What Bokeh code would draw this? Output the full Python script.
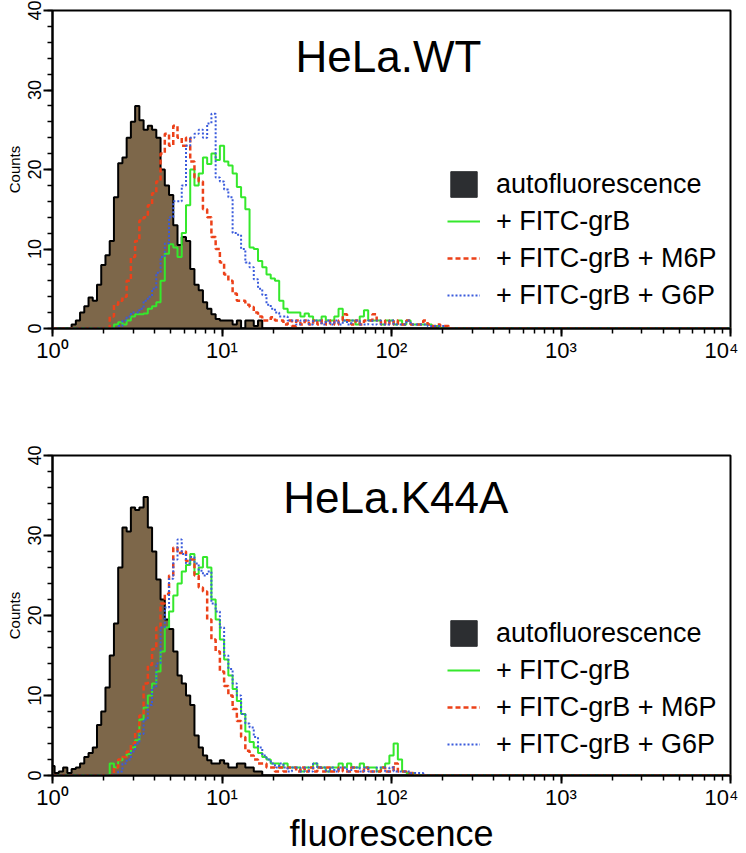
from bokeh.plotting import figure
from bokeh.models import (Range1d, Label, Legend, LegendItem, LogTicker,
                          SingleIntervalTicker, CustomJSTickFormatter, ColumnDataSource)
from bokeh.layouts import column
from bokeh.embed import file_html
from bokeh.resources import INLINE

# ---------------- data ----------------
# fluorescence channel values (log scale, 1/40 decade apart) + axis end
channels = [1.000, 1.059, 1.122, 1.189, 1.259, 1.334, 1.413, 1.496, 1.585, 1.679,
            1.778, 1.884, 1.995, 2.113, 2.239, 2.371, 2.512, 2.661, 2.818, 2.985,
            3.162, 3.350, 3.548, 3.758, 3.981, 4.217, 4.467, 4.732, 5.012, 5.309,
            5.623, 5.957, 6.310, 6.683, 7.079, 7.499, 7.943, 8.414, 8.913, 9.441,
            10.00, 10.59, 11.22, 11.89, 12.59, 13.34, 14.13, 14.96, 15.85, 16.79,
            17.78, 18.84, 19.95, 21.13, 22.39, 23.71, 25.12, 26.61, 28.18, 29.85,
            31.62, 33.50, 35.48, 37.58, 39.81, 42.17, 44.67, 47.32, 50.12, 53.09,
            56.23, 59.57, 63.10, 66.83, 70.79, 74.99, 79.43, 84.14, 89.13, 94.41,
            100.0, 105.9, 112.2, 118.9, 125.9, 133.4, 141.3, 149.6, 158.5, 167.9,
            177.8, 188.4, 199.5, 211.3, 223.9, 237.1, 251.2, 10000]

series_names = ["autofluorescence", "+ FITC-grB", "+ FITC-grB + M6P", "+ FITC-grB + G6P"]
titles = ["HeLa.WT", "HeLa.K44A"]

wt_auto = [0, 0, 0, 0, 0, 0.5, 1, 2, 2.8, 3.9,
           3.5, 5.5, 8, 9.2, 11, 16.5, 20.8, 21.5, 24, 26,
           28, 26.2, 25, 25.5, 25, 24, 20, 18, 16.8, 13,
           10.5, 11.5, 11, 7.5, 5.5, 4.8, 3.3, 2.5, 1.8, 1.2,
           1, 1, 1, 0.5, 1, 0, 1, 1, 0.3, 1,
           0, 0, 0, 0, 0, 0, 0, 0, 0, 0,
           0, 0, 0, 0, 0, 0, 0, 0, 0, 0,
           0, 0, 0, 0, 0, 0, 0, 0, 0, 0,
           0, 0, 0, 0, 0, 0, 0, 0, 0, 0,
           0, 0, 0, 0, 0, 0, 0, 0]
wt_grb = [0, 0, 0, 0, 0, 0, 0, 0, 0, 0,
          0, 0, 0, 0, 0, 0.5, 0.8, 0.5, 1, 1.5,
          1.8, 1.8, 1.9, 2.5, 2.8, 3.3, 6, 9.4, 10.6, 10.2,
          9, 12, 15.5, 20, 18, 19.5, 21.5, 20.7, 22, 21.2,
          23, 21, 20.5, 19.5, 17.8, 16.5, 15, 10.2, 10, 8.5,
          7.7, 6.8, 6.3, 6, 3.5, 2.5, 2, 2, 2, 1.5,
          1.9, 1.5, 1, 1, 1.5, 1, 1, 1.5, 2.5, 1,
          1, 1, 0.5, 1.5, 2.3, 1, 1, 1, 0.5, 1,
          1, 0.5, 1, 0.5, 1, 0.5, 0.5, 0.5, 0.5, 0.5,
          0.3, 0.3, 0, 0, 0, 0, 0, 0]
wt_m6p = [0, 0, 0, 0, 0, 0, 0, 0, 0, 0,
          0, 0, 0, 0, 1.5, 3, 3.5, 4, 6, 9,
          11, 13.6, 14, 15.5, 17, 18.5, 22, 24.5, 23, 25.5,
          24, 23, 24, 21, 19, 18.5, 15, 14, 11.5, 10,
          8.3, 6.8, 6, 4.4, 3.5, 3.5, 3, 2.7, 2, 1.5,
          1, 1, 1.4, 1, 1, 0.5, 1, 0.3, 1, 0.5,
          1, 0.5, 1, 0.5, 1, 0.5, 1, 0.5, 1, 1.8,
          1, 0.5, 1, 0.5, 1, 1, 1.8, 1, 0.5, 1,
          0.5, 1, 0.5, 0.5, 1, 0.5, 0.5, 0.5, 1, 0.5,
          0.3, 0.5, 0.3, 0.3, 0, 0, 0, 0]
wt_g6p = [0, 0, 0, 0, 0, 0, 0, 0, 0, 0,
          0, 0, 0, 0, 0, 0, 0.3, 1, 1.5, 2,
          2, 2.5, 3.5, 4, 5, 7, 9, 10.7, 14, 16,
          16, 18, 23, 24, 24.5, 25, 24, 25.8, 27, 19,
          18.5, 17.5, 16.5, 12, 11.8, 10, 8.3, 7.7, 6.2, 5,
          4.2, 3, 2.5, 2, 1.5, 1.5, 1, 1, 0.5, 1,
          1, 0.5, 1, 1, 0.5, 1, 0.5, 1, 0.5, 1,
          0.5, 1, 1, 0.5, 0.5, 1, 0.5, 1, 0.5, 0.5,
          1, 0.5, 0.5, 0.5, 1, 0.5, 0.5, 0.5, 0.5, 0.3,
          0.3, 0.3, 0.3, 0, 0, 0, 0, 0]

k44a_auto = [1.2, 0.3, 0.5, 1, 0.3, 0.8, 1, 1.5, 2.3, 2.8,
             3.5, 6.3, 8, 11, 15, 19, 26, 31, 30.5, 33.5,
             33.2, 33.5, 34.8, 31, 28, 24.5, 22, 19.5, 18.3, 15.5,
             12.5, 11.5, 10, 8.8, 5, 3.5, 2.5, 1.9, 1.5, 1.5,
             1.9, 1.5, 1, 1, 1.5, 1.5, 1, 1, 0.5, 0.5,
             0, 0, 0, 0, 0, 0, 0, 0, 0, 0,
             0, 0, 0, 0, 0, 0, 0, 0, 0, 0,
             0, 0, 0, 0, 0, 0, 0, 0, 0, 0,
             0, 0, 0, 0, 0, 0, 0, 0, 0, 0,
             0, 0, 0, 0, 0, 0, 0, 0]
k44a_grb = [0, 0, 0, 0, 0, 0, 0, 0, 0, 0,
            0, 0, 0, 0, 1.5, 1, 1.9, 2.3, 2.7, 3.5,
            4.4, 7, 8.5, 10, 11.5, 13, 15.5, 18.5, 20.5, 22.5,
            24, 25.5, 26.3, 27.7, 25.2, 26, 27.3, 26, 22, 19.5,
            17, 14.5, 12.5, 10.8, 9.3, 7.7, 5.5, 4.2, 3.5, 2.8,
            2.3, 2, 1.5, 1.5, 1, 1.5, 1, 1, 1, 0.5,
            1, 1, 1.5, 1, 1, 0.5, 1, 1, 1.5, 1,
            1.5, 1, 1, 1.5, 1, 1, 1, 0.5, 1, 1.5,
            2.5, 4, 2, 0.5, 0.3, 0.3, 0, 0, 0, 0,
            0, 0, 0, 0, 0, 0, 0, 0]
k44a_m6p = [0, 0, 0, 0, 0, 0, 0, 0, 0, 0,
            0, 0, 0, 0, 0, 1, 2, 2.3, 3, 4,
            5.5, 7.5, 11.5, 13.8, 15.8, 18.5, 21.5, 22.7, 25, 28.5,
            27.8, 28, 26.8, 27, 25, 23.5, 23, 19.5, 17, 15.5,
            13, 11.2, 10, 8.3, 6.8, 4.8, 3.1, 2.5, 2, 1.5,
            1.5, 1, 1, 0.5, 1, 0.5, 1, 1, 0.5, 1,
            0.5, 1, 0.5, 1, 0.5, 1, 0.5, 0.5, 1, 0.5,
            0.5, 1, 0.5, 0.5, 1, 0.5, 0.5, 0.5, 1, 0.5,
            0.5, 1.5, 0.5, 0.5, 0.3, 0.3, 0, 0, 0, 0,
            0, 0, 0, 0, 0, 0, 0, 0]
k44a_g6p = [0, 0, 0, 0, 0, 0, 0, 0, 0, 0,
            0, 0, 0, 0, 0, 0, 0.5, 1.5, 2, 3,
            4, 5.2, 7, 8.8, 11, 14, 18.5, 21, 24.6, 27,
            29.5, 27.7, 26.5, 27.3, 26.5, 25.6, 25, 25.5, 21.5, 20.5,
            18.5, 15, 13.3, 11.5, 10, 7.7, 6.5, 6, 4.8, 3.5,
            2.5, 2, 1.5, 1, 1.5, 1, 0.5, 1, 1, 0.5,
            1, 0.5, 1.5, 1, 1, 0.5, 1, 0.5, 1, 1,
            0.5, 1, 1, 0.5, 1, 0.5, 0.5, 1, 1, 0.5,
            1, 0.5, 0.5, 0.5, 0.5, 0.3, 0.3, 0.3, 0, 0,
            0, 0, 0, 0, 0, 0, 0, 0]

# ---------------- styles ----------------
FONT = "Liberation Sans"
FILL_BROWN = "#7d674a"
SWATCH = "#2c2e31"
GREEN = "#35e82c"
RED = "#ec4119"
BLUE = "#3a5bdc"
NAN = float("nan")

sup_fmt = CustomJSTickFormatter(code="""
const e = Math.round(Math.log10(tick));
const s = ['\u2070','\u00b9','\u00b2','\u00b3','\u2074','\u2075'];
return '10' + s[e];
""")


def panel(title, auto, grb, m6p, g6p, title_xy, legend_y, top_b, bot_b, frame_h, xlabel):
    p = figure(frame_width=678, frame_height=frame_h, x_axis_type="log",
               x_range=Range1d(1, 10000), y_range=Range1d(0, 40),
               output_backend="svg", toolbar_location=None,
               min_border_left=52, min_border_right=8,
               min_border_top=top_b, min_border_bottom=bot_b)
    p.grid.visible = False
    p.outline_line_color = "black"
    p.outline_line_width = 2
    p.outline_line_alpha = 1

    src = ColumnDataSource(dict(x=channels, auto=auto, grb=grb, m6p=m6p, g6p=g6p))
    p.varea_step(x="x", y1=0, y2="auto", step_mode="center", source=src,
                 fill_color=FILL_BROWN)
    p.step(x="x", y="auto", mode="center", source=src, line_color="black", line_width=2)
    r_g = p.step(x="x", y="grb", mode="center", source=src, line_color=GREEN, line_width=2)
    r_r = p.step(x="x", y="m6p", mode="center", source=src, line_color=RED, line_width=2.5,
                 line_dash="5 3")
    r_b = p.step(x="x", y="g6p", mode="center", source=src, line_color=BLUE, line_width=2,
                 line_dash="2 2")
    # legend-only swatch (not drawn in the plot area)
    sw = p.quad(left=[NAN], right=[NAN], bottom=[NAN], top=[NAN],
                fill_color=SWATCH, line_color=SWATCH)

    leg = Legend(items=[LegendItem(label=series_names[0], renderers=[sw]),
                        LegendItem(label=series_names[1], renderers=[r_g]),
                        LegendItem(label=series_names[2], renderers=[r_r]),
                        LegendItem(label=series_names[3], renderers=[r_b])],
                 location=(395, legend_y))
    leg.label_text_font = FONT
    leg.label_text_font_size = "27px"
    leg.label_text_color = "black"
    leg.glyph_width = 33
    leg.glyph_height = 32
    leg.spacing = 5
    leg.padding = 0
    leg.margin = 0
    leg.label_standoff = 16
    leg.border_line_alpha = 0
    leg.background_fill_alpha = 0
    p.add_layout(leg)

    p.add_layout(Label(x=title_xy[0], y=title_xy[1], text=title, text_font=FONT,
                       text_font_size="44px", text_align="center",
                       text_baseline="middle", text_color="black"))

    # x axis
    xa = p.xaxis[0]
    xa.ticker = LogTicker(num_minor_ticks=10)
    xa.formatter = sup_fmt
    xa.major_label_text_font = FONT
    xa.major_label_text_font_size = "22px"
    xa.major_label_text_color = "black"
    xa.major_label_standoff = 1
    xa.axis_line_width = 2
    xa.major_tick_line_width = 2
    xa.minor_tick_line_width = 1.5
    xa.major_tick_out = 8
    xa.major_tick_in = 0
    xa.minor_tick_out = 5
    xa.minor_tick_in = 0
    if xlabel:
        xa.axis_label = "fluorescence"
        xa.axis_label_text_font = FONT
        xa.axis_label_text_font_size = "36px"
        xa.axis_label_text_font_style = "normal"
        xa.axis_label_text_color = "black"
        xa.axis_label_standoff = 0

    # y axis
    ya = p.yaxis[0]
    ya.ticker = SingleIntervalTicker(interval=10, num_minor_ticks=5)
    ya.major_label_orientation = "vertical"
    ya.major_label_text_font = FONT
    ya.major_label_text_font_size = "18px"
    ya.major_label_text_color = "black"
    ya.major_label_standoff = 3
    ya.axis_label = "Counts"
    ya.axis_label_text_font = FONT
    ya.axis_label_text_font_size = "15px"
    ya.axis_label_text_font_style = "normal"
    ya.axis_label_text_color = "black"
    ya.axis_label_standoff = 2
    ya.axis_line_width = 2
    ya.major_tick_line_width = 2
    ya.minor_tick_line_width = 1.5
    ya.major_tick_out = 9
    ya.major_tick_in = 0
    ya.minor_tick_out = 5
    ya.minor_tick_in = 0
    return p


p1 = panel(titles[0], wt_auto, wt_grb, wt_m6p, wt_g6p, (96, 34.2), 17, 10, 48, 318, False)
p2 = panel(titles[1], k44a_auto, k44a_grb, k44a_m6p, k44a_g6p, (106, 34.7), 15, 79, 0, 320, True)

layout = column(p1, p2, spacing=0)

with open("out.html", "w", encoding="utf-8") as f:
    f.write(file_html(layout, INLINE))
